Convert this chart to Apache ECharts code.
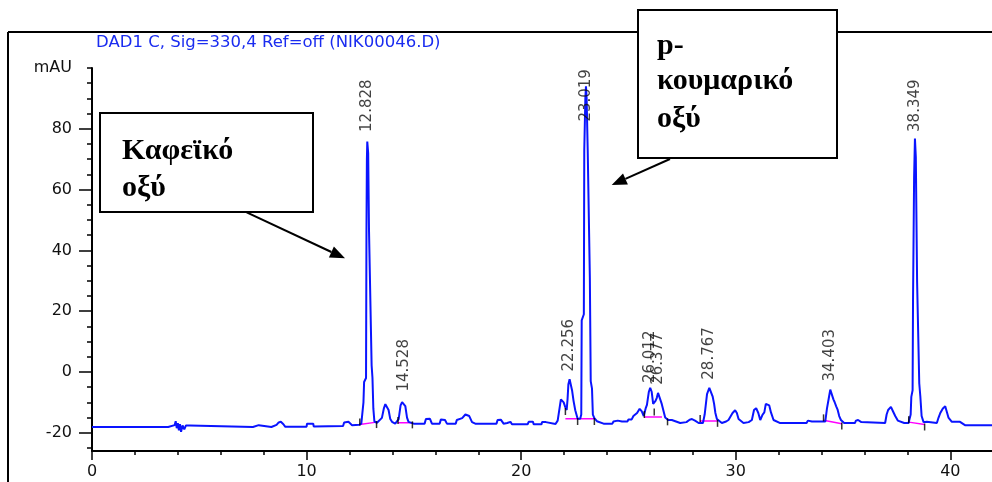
<!DOCTYPE html>
<html>
<head>
<meta charset="utf-8">
<script src="https://cdn.jsdelivr.net/npm/echarts@6/dist/echarts.min.js"></script>
<style>
  html, body { margin: 0; padding: 0; background: #fff; }
  #chart { width: 992px; height: 482px; }
</style>
</head>
<body>
<div id="chart"></div>
<script>
// DAD1 C, 330 nm chromatogram: retention time (min) vs absorbance (mAU)
const signalTrace = [
  [0,-18.1],[3.55,-18.1],[3.57,-17.5],[3.85,-17.5],[3.9,-16.2],[3.95,-18.5],[4.0,-16.8],[4.05,-19.2],[4.1,-17.2],
  [4.15,-19.7],[4.22,-17.6],[4.3,-18.9],[4.38,-17.6],[4.56,-17.6],[4.58,-18.1],
  [7.5,-18.1],[7.53,-17.5],[7.77,-17.5],[7.8,-18.1],[8.36,-18.1],[8.39,-17.5],[8.6,-17.4],[8.7,-16.6],[8.8,-16.4],
  [8.92,-17.2],[9.0,-18.0],[10.0,-18.0],[10.02,-17.0],[10.31,-17.0],[10.33,-17.9],[11.7,-17.8],[11.75,-16.6],
  [11.95,-16.4],[12.04,-16.8],[12.12,-17.5],[12.45,-17.4],[12.55,-17],
  [12.6,-16.5],[12.65,-10],[12.68,-3.3],[12.77,-2],[12.79,46],[12.81,70],[12.828,75.8],[12.87,72],[12.91,46],
  [13.03,2.2],[13.07,-2],[13.11,-12],[13.16,-16.3],[13.28,-16.7],
  [13.51,-15.1],[13.6,-12],[13.67,-10.6],[13.75,-10.8],[13.82,-12.5],[13.9,-15.5],[13.98,-16.4],[14.13,-17],
  [14.29,-15.5],[14.38,-11],[14.45,-9.9],[14.528,-9.9],[14.6,-11.2],[14.68,-15],[14.75,-16.4],[14.99,-17],
  [15.5,-17],[15.56,-15.5],[15.65,-15],[15.75,-15.4],[15.84,-17],[16.2,-17],[16.26,-15.6],[16.35,-15.3],
  [16.45,-15.8],[16.54,-17],[16.95,-17],[17.0,-15.8],[17.25,-15.2],[17.4,-14],[17.47,-13.7],[17.58,-14.5],
  [17.71,-16.5],[17.86,-17.0],
  [18.85,-17.0],[18.9,-15.8],[19.05,-15.7],[19.18,-17.0],[19.35,-16.8],[19.42,-16.3],[19.5,-16.4],[19.57,-17.2],
  [20.3,-17.2],[20.35,-16.4],[20.55,-16.4],[20.58,-17.2],[20.95,-17.2],[20.97,-16.5],[21.15,-16.5],[21.2,-17.1],
  [21.6,-17.1],[21.7,-16],[21.75,-13.7],[21.85,-9],[21.92,-8.8],[21.98,-10],[22.05,-11.5],[22.12,-12.5],
  [22.16,-9],[22.2,-4],[22.256,-2.4],[22.3,-3],[22.37,-6],[22.44,-9.5],[22.52,-12.6],[22.63,-15.4],[22.75,-15.4],
  [22.8,-14],[22.82,17],[22.92,19],[22.94,73],[22.99,90],[23.019,94],[23.05,90],[23.1,73],[23.2,31],[23.24,-3],
  [23.3,-5.5],[23.34,-14],[23.41,-15.2],[23.53,-16.2],[23.84,-17],
  [24.25,-17],[24.3,-16.3],[24.5,-16],[24.54,-15.7],[24.7,-16.3],[24.77,-16.5],[24.95,-16.3],[25.0,-15.6],
  [25.15,-15.6],[25.23,-14.5],[25.4,-13.5],[25.52,-12.1],[25.62,-13],[25.71,-14.5],[25.8,-12],[25.86,-10.8],
  [25.95,-6.5],[26.012,-5.2],[26.08,-6.5],[26.15,-10.5],[26.2,-10.8],[26.26,-9.5],[26.32,-8.5],[26.377,-6.9],
  [26.47,-7.2],[26.55,-10.5],[26.6,-10.8],[26.71,-15],[26.85,-15.8],[27.02,-15.8],[27.41,-16.8],
  [27.7,-16.5],[27.85,-15.7],[27.96,-15.5],[28.1,-16.0],[28.27,-16.8],[28.47,-16.8],[28.55,-14],[28.66,-7.3],
  [28.767,-5.2],[28.84,-5.5],[28.92,-8],[28.99,-10.5],[29.05,-13.5],[29.12,-15.5],[29.35,-16.8],[29.55,-16.3],
  [29.66,-15.8],[29.85,-13.5],[29.97,-12.6],[30.05,-13.5],[30.13,-15.5],[30.36,-16.8],[30.6,-16.5],[30.75,-15.8],
  [30.85,-12.5],[30.95,-11.9],[31.05,-13.5],[31.14,-15.8],[31.25,-14],[31.33,-13.3],[31.4,-10.5],[31.48,-9.9],
  [31.56,-11],[31.64,-13.3],[31.76,-15.8],[32.07,-16.8],
  [33.3,-16.8],[33.36,-16],[33.45,-15.8],[33.55,-16.3],[33.63,-16.8],[34.17,-16.3],[34.25,-12],[34.33,-8.8],
  [34.403,-5.8],[34.48,-6.2],[34.55,-9],[34.6,-9.8],[34.68,-11.3],[34.74,-12.3],[34.82,-14.5],[34.9,-15.8],
  [35.05,-16.8],[35.55,-16.8],[35.6,-16],[35.7,-15.8],[35.85,-16.5],[35.88,-16.8],[36.96,-16.8],[37.03,-14],
  [37.1,-12.5],[37.23,-11.5],[37.33,-13],[37.43,-14.5],[37.55,-16],[37.63,-16.4],[37.85,-16.8],[38.05,-16.8],
  [38.1,-16.5],[38.15,-14],[38.18,-8.2],[38.24,-6],[38.26,23.6],[38.31,64],[38.349,76.8],[38.39,70.6],
  [38.45,29.6],[38.55,-3.7],[38.6,-8],[38.66,-14.5],[38.75,-16.5],[38.9,-16.4],
  [39.37,-16.8],[39.45,-15],[39.53,-13.5],[39.65,-12],[39.76,-11.3],[39.85,-13.5],[39.91,-15],[40.07,-16.4],
  [40.45,-16.4],[40.5,-17],[40.68,-17.5],[41.94,-17.5]
];

// Integrated peaks: retention time and the mAU level where each label starts
const peakTimes = [12.828, 14.528, 22.256, 23.019, 26.012, 26.377, 28.767, 34.403, 38.349];
const peakLabelLevels = [78.8, -6.6, 0.0, 82.2, -3.8, -4.4, -2.7, -3.3, 78.8];

// Integration baselines (start/end of each integrated region)
const baselineSegments = [
  [[12.48, -17.3], [13.26, -16.5]],
  [[14.26, -16.7], [14.93, -16.7]],
  [[22.06, -15.4], [23.41, -15.4]],
  [[25.74, -14.8], [26.56, -14.8]],
  [[28.34, -16.1], [29.15, -16.1]],
  [[34.09, -15.9], [34.94, -17.0]],
  [[38.06, -16.5], [38.80, -17.3]]
];
// Peak start / end / split markers
const peakMarkers = [
  [12.48, -16.5], [13.26, -17.3], [14.26, -16.0], [14.93, -17.4], [22.06, -13.0], [22.63, -16.3],
  [23.41, -16.3], [25.74, -14.0], [26.20, -13.2], [26.82, -16.4], [28.34, -15.3], [29.15, -16.9],
  [34.09, -15.1], [34.94, -17.8], [38.06, -15.7], [38.80, -18.1]
];

// Axis ticks
const yMajorTicks = [-20, 0, 20, 40, 60, 80];
const yMinorTicks = [-25, -15, -10, -5, 5, 10, 15, 25, 30, 35, 45, 50, 55, 65, 70, 75, 85, 90, 95, 100];
const yLabelValues = [-20, 0, 20, 40, 60, 80, 100];
const xMajorTicks = [0, 10, 20, 30, 40];
const xMinorTicks = [2, 4, 6, 8, 12, 14, 16, 18, 22, 24, 26, 28, 32, 34, 36, 38];

const titleText = 'DAD1 C, Sig=330,4 Ref=off (NIK00046.D)';
const calloutCaffeic = ['Καφεϊκό', 'οξύ'];
const calloutCoumaric = ['p-', 'κουμαρικό', 'οξύ'];

const AXIS_FONT = 'DejaVu Sans';
const BOX_FONT = 'Liberation Serif';
const TRACE_BLUE = '#0a14ff';

const chart = echarts.init(document.getElementById('chart'), null, { renderer: 'canvas' });

const valueAxisBase = {
  type: 'value',
  splitLine: { show: false },
  axisLine: { show: false, onZero: false },
  axisLabel: { show: false },
  axisTick: { show: false }
};

const baselineSeries = baselineSegments.map(seg => ({
  type: 'line',
  data: seg,
  symbol: 'none',
  silent: true,
  lineStyle: { color: '#ff00ff', width: 1.5 },
  z: 3
}));

const option = {
  backgroundColor: '#ffffff',
  animation: false,
  grid: { left: 92, right: 0, top: 68, bottom: 31, containLabel: false },
  xAxis: [
    {
      ...valueAxisBase,
      min: 0, max: 41.94,
      position: 'bottom',
      axisLine: { show: true, onZero: false, lineStyle: { color: '#000', width: 2 } },
      axisTick: { show: true, customValues: xMajorTicks, length: 9, lineStyle: { color: '#000', width: 1.5 } },
      axisLabel: {
        show: true, customValues: xMajorTicks, margin: 13,
        fontFamily: AXIS_FONT, fontSize: 16, color: '#111'
      }
    },
    {
      ...valueAxisBase,
      min: 0, max: 41.94,
      position: 'bottom',
      axisTick: { show: true, customValues: xMinorTicks, length: 4, lineStyle: { color: '#000', width: 1.5 } }
    }
  ],
  yAxis: [
    {
      ...valueAxisBase,
      min: -26, max: 100,
      position: 'left',
      axisLine: { show: true, onZero: false, lineStyle: { color: '#000', width: 2 } },
      axisTick: { show: true, customValues: yMajorTicks, length: 13, lineStyle: { color: '#000', width: 1.5 } },
      axisLabel: {
        show: true, customValues: yLabelValues, margin: 20,
        fontFamily: AXIS_FONT, fontSize: 16, color: '#111',
        formatter: v => (v === 100 ? 'mAU' : String(v))
      }
    },
    {
      ...valueAxisBase,
      min: -26, max: 100,
      position: 'left',
      axisTick: { show: true, customValues: yMinorTicks, length: 5, lineStyle: { color: '#000', width: 1.5 } }
    }
  ],
  series: [
    ...baselineSeries,
    {
      type: 'line',
      name: 'DAD1 C',
      data: signalTrace,
      symbol: 'none',
      silent: true,
      lineStyle: { color: TRACE_BLUE, width: 2 },
      z: 4
    },
    {
      type: 'scatter',
      data: peakMarkers,
      symbol: 'rect',
      symbolSize: [1.5, 7],
      itemStyle: { color: '#000' },
      silent: true,
      z: 5
    },
    {
      type: 'scatter',
      data: peakTimes.map((t, i) => [t, peakLabelLevels[i]]),
      symbolSize: 1,
      itemStyle: { color: 'rgba(0,0,0,0)' },
      silent: true,
      z: 6,
      label: {
        show: true,
        position: 'top',
        distance: 0,
        rotate: 90,
        align: 'left',
        verticalAlign: 'middle',
        fontFamily: AXIS_FONT,
        fontSize: 15,
        color: '#111',
        formatter: p => p.value[0].toFixed(3)
      }
    }
  ],
  graphic: [
    // outer frame (top and left edges)
    { type: 'line', shape: { x1: 8, y1: 32, x2: 992, y2: 32 }, style: { stroke: '#000', lineWidth: 2 }, z: 50 },
    { type: 'line', shape: { x1: 8, y1: 32, x2: 8, y2: 482 }, style: { stroke: '#000', lineWidth: 2 }, z: 50 },
    // run header
    {
      type: 'text', x: 96, y: 43, z: 50,
      style: { text: titleText, fill: '#1a2cf0', font: '16.5px "' + AXIS_FONT + '"', verticalAlign: 'middle' }
    },
    // callout: caffeic acid
    { type: 'rect', shape: { x: 100, y: 113, width: 213, height: 99 }, style: { fill: '#fff', stroke: '#000', lineWidth: 2 }, z: 60 },
    {
      type: 'text', x: 122, y: 151, z: 61,
      style: { text: calloutCaffeic[0], fill: '#000', font: 'bold 30px "' + BOX_FONT + '"', verticalAlign: 'middle' }
    },
    {
      type: 'text', x: 122, y: 188, z: 61,
      style: { text: calloutCaffeic[1], fill: '#000', font: 'bold 30px "' + BOX_FONT + '"', verticalAlign: 'middle' }
    },
    { type: 'line', shape: { x1: 246.7, y1: 212.3, x2: 331.4, y2: 252.0 }, style: { stroke: '#000', lineWidth: 2 }, z: 60 },
    { type: 'polygon', shape: { points: [[345, 258.3], [328.9, 257.4], [333.9, 246.6]] }, style: { fill: '#000' }, z: 60 },
    // callout: p-coumaric acid
    { type: 'rect', shape: { x: 638, y: 10, width: 199, height: 148 }, style: { fill: '#fff', stroke: '#000', lineWidth: 2 }, z: 60 },
    {
      type: 'text', x: 657, y: 46, z: 61,
      style: { text: calloutCoumaric[0], fill: '#000', font: 'bold 30px "' + BOX_FONT + '"', verticalAlign: 'middle' }
    },
    {
      type: 'text', x: 657, y: 81, z: 61,
      style: { text: calloutCoumaric[1], fill: '#000', font: 'bold 30px "' + BOX_FONT + '"', verticalAlign: 'middle' }
    },
    {
      type: 'text', x: 657, y: 119, z: 61,
      style: { text: calloutCoumaric[2], fill: '#000', font: 'bold 30px "' + BOX_FONT + '"', verticalAlign: 'middle' }
    },
    { type: 'line', shape: { x1: 670, y1: 159, x2: 625.4, y2: 178.9 }, style: { stroke: '#000', lineWidth: 2 }, z: 60 },
    { type: 'polygon', shape: { points: [[611.7, 185], [623.0, 173.4], [627.9, 184.4]] }, style: { fill: '#000' }, z: 60 }
  ]
};

chart.setOption(option);
</script>
</body>
</html>
